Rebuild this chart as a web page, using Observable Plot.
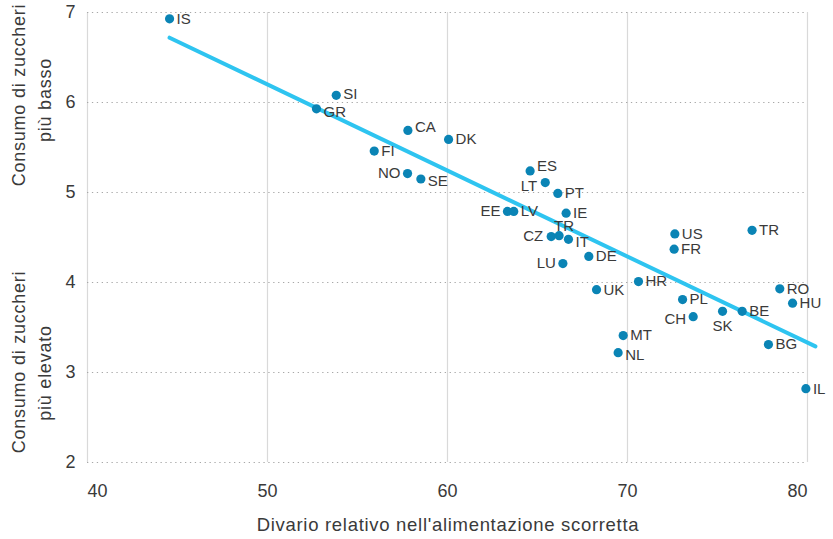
<!DOCTYPE html>
<html>
<head>
<meta charset="utf-8">
<script src="https://cdn.jsdelivr.net/npm/d3@7"></script>
<script src="https://cdn.jsdelivr.net/npm/@observablehq/plot@0.6"></script>
<style>
  html, body { margin: 0; padding: 0; background: #fff; }
  #chart { width: 833px; height: 539px; }
  svg { font-family: "Liberation Sans", Arial, sans-serif; }
</style>
</head>
<body>
<div id="chart"></div>
<script>
// ---- Data ----
const countries = ["IS","SI","GR","CA","DK","FI","NO","SE","ES","LT","PT","EE","LV","IE","CZ","TR","IT","DE","LU","HR","UK","US","FR","TR","RO","HU","PL","CH","SK","BE","BG","MT","NL","IL"];
const unhealthyGap = [44.56,53.82,52.72,57.8,60.06,55.93,57.78,58.52,64.59,65.43,66.13,63.33,63.68,66.59,65.76,66.2,66.72,67.85,66.41,70.61,68.28,72.63,72.59,76.92,78.46,79.17,73.06,73.65,75.28,76.37,77.83,69.76,69.48,79.91];
const sugarConsumption = [6.93,6.08,5.93,5.69,5.59,5.46,5.21,5.15,5.24,5.11,4.99,4.79,4.79,4.77,4.51,4.52,4.48,4.29,4.21,4.01,3.92,4.54,4.37,4.58,3.93,3.77,3.81,3.62,3.68,3.68,3.31,3.41,3.22,2.82];
const trendX = [44.56, 80.44];
const trendY = [6.72, 3.29];
const xTicks = [40, 50, 60, 70, 80];
const yTicks = [2, 3, 4, 5, 6, 7];
const xTitle = "Divario relativo nell'alimentazione scorretta";
const yTitleTop = ["Consumo di zuccheri", "più basso"];
const yTitleBottom = ["Consumo di zuccheri", "più elevato"];

// ---- Build tables ----
const points = countries.map((c, i) => ({i, c, x: unhealthyGap[i], y: sugarConsumption[i]}));
const trend = trendX.map((x, i) => ({x, y: trendY[i]}));

// label placement (style only)
const placement = {
  default: {dx: 7, dy: 0, textAnchor: "start"},
  1: {dx: 7, dy: -1, textAnchor: "start"},   // SI
  2: {dx: 7, dy: 3, textAnchor: "start"},    // GR
  3: {dx: 7, dy: -3, textAnchor: "start"},   // CA
  6: {dx: -7, dy: 0, textAnchor: "end"},     // NO
  7: {dx: 7, dy: 2, textAnchor: "start"},    // SE
  8: {dx: 7, dy: -5, textAnchor: "start"},   // ES
  9: {dx: -8, dy: 4, textAnchor: "end"},     // LT
  11: {dx: -7, dy: 0, textAnchor: "end"},    // EE
  14: {dx: -8, dy: 0, textAnchor: "end"},    // CZ
  15: {dx: -5, dy: -10, textAnchor: "start"},// TR (mid)
  16: {dx: 7, dy: 3, textAnchor: "start"},   // IT
  18: {dx: -7, dy: 0, textAnchor: "end"},    // LU
  27: {dx: -7, dy: 2, textAnchor: "end"},    // CH
  28: {dx: 0, dy: 15, textAnchor: "middle"}, // SK
  32: {dx: 7, dy: 2, textAnchor: "start"}    // NL
};
const groups = new Map();
points.forEach(p => {
  const pl = placement[p.i] || placement.default;
  const key = JSON.stringify(pl);
  if (!groups.has(key)) groups.set(key, {pl, rows: []});
  groups.get(key).rows.push(p);
});
const labelMarks = [...groups.values()].map(({pl, rows}) =>
  Plot.text(rows, {x: "x", y: "y", text: "c", dx: pl.dx, dy: pl.dy, textAnchor: pl.textAnchor,
    fill: "#3a3a3a", fontSize: 15})
);

const tickStyle = {tickSize: 0, fontSize: 18, fill: "#3a3a3a", label: null, tickFormat: "d"};

const plot = Plot.plot({
  width: 833,
  height: 539,
  marginLeft: 87,
  marginRight: 26,
  marginTop: 12,
  marginBottom: 77,
  style: {fontFamily: "'Liberation Sans', Arial, sans-serif", background: "#fff"},
  x: {domain: [40, 80]},
  y: {domain: [2, 7]},
  marks: [
    Plot.ruleX(xTicks, {stroke: "#d9d9d9", strokeWidth: 1.2}),
    Plot.ruleY(yTicks, {stroke: "#a8a8a8", strokeWidth: 1.2, strokeDasharray: "1.3,3.6"}),
    Plot.axisY(yTicks, {...tickStyle, tickPadding: 12}),
    Plot.axisX([40], {...tickStyle, tickPadding: 22, textAnchor: "start"}),
    Plot.axisX([50, 60, 70], {...tickStyle, tickPadding: 22}),
    Plot.axisX([80], {...tickStyle, tickPadding: 22, textAnchor: "end"}),
    Plot.line(trend, {x: "x", y: "y", stroke: "#2ec4f0", strokeWidth: 4}),
    Plot.dot(points, {x: "x", y: "y", r: 4.6, fill: "#0a84b5", stroke: "none"}),
    ...labelMarks
  ]
});

const svg = d3.select(plot);
svg.append("text")
  .attr("x", 448).attr("y", 526)
  .attr("text-anchor", "middle")
  .attr("dominant-baseline", "middle")
  .attr("font-size", 18.5)
  .attr("letter-spacing", "0.7px")
  .attr("fill", "#3a3a3a")
  .text(xTitle);

function vTitle(lines, centers, xs) {
  lines.forEach((t, k) => {
    svg.append("text")
      .attr("transform", `translate(${xs[k]},${centers[k]}) rotate(-90)`)
      .attr("text-anchor", "middle")
      .attr("dy", "0.35em")
      .attr("font-size", 18)
      .attr("letter-spacing", "0.75px")
      .attr("fill", "#3a3a3a")
      .text(t);
  });
}
vTitle(yTitleTop, [95, 100], [19, 45]);
vTitle(yTitleBottom, [362, 373], [19, 45]);

document.getElementById("chart").appendChild(plot);
</script>
</body>
</html>
